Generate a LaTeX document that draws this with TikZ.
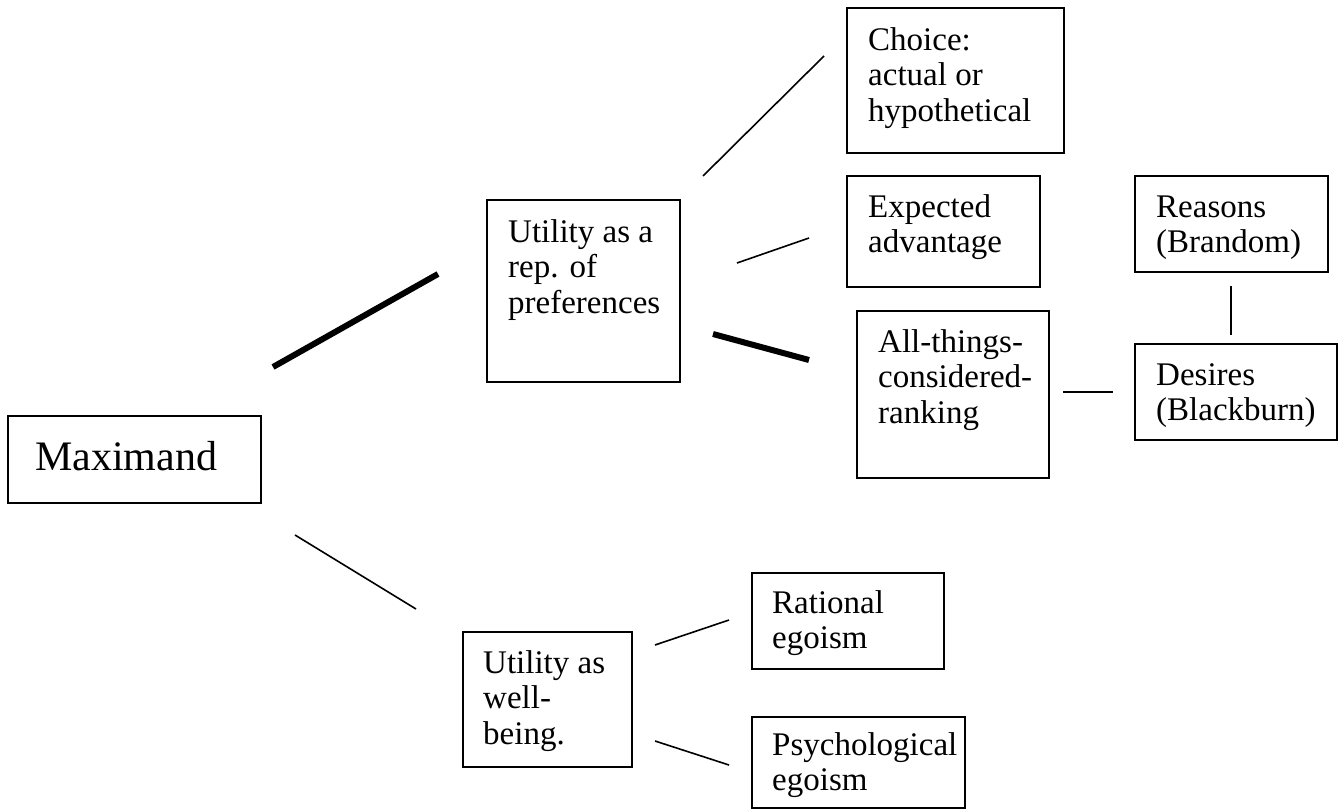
\documentclass[tikz,border=0pt]{standalone}
\usepackage{fontspec}
\setmainfont{Liberation Serif}
\begin{document}
\begin{tikzpicture}[x=1pt,y=-1pt,
  box/.style={draw=black, line width=1.8pt, inner sep=0pt},
  txt/.style={anchor=base west, inner sep=0pt, font=\fontsize{33}{35.5}\selectfont},
  bigtxt/.style={anchor=base west, inner sep=0pt, font=\fontsize{42}{46}\selectfont},
  thin/.style={line width=1.6pt},
  thick6/.style={line width=6pt}]
\useasboundingbox (0,0) rectangle (1338,811);
% boxes
\draw[box] (8,416) rectangle (261,503);
\draw[box] (487,200) rectangle (680,382);
\draw[box] (847,8) rectangle (1064,153);
\draw[box] (847,176) rectangle (1040,287);
\draw[box] (1135,176) rectangle (1328,272);
\draw[box] (857,311) rectangle (1049,478);
\draw[box] (1135,344) rectangle (1337,440);
\draw[box] (463,632) rectangle (632,767);
\draw[box] (752,573) rectangle (944,669);
\draw[box] (752,717) rectangle (965,808);
% texts
\node[bigtxt] (max) at (35,470) {Maximand};
\node[txt] (pref) at (508,242) {\parbox[t]{200pt}{Utility as a\\rep. of\\preferences}};
\node[txt] (choice) at (868,50) {\parbox[t]{220pt}{Choice:\\actual or\\hypothetical}};
\node[txt] (exp) at (868,217) {\parbox[t]{200pt}{Expected\\advantage}};
\node[txt] (reas) at (1156,217) {\parbox[t]{200pt}{Reasons\\(Brandom)}};
\node[txt] (all) at (878,352) {\parbox[t]{200pt}{All-things-\\considered-\\ranking}};
\node[txt] (des) at (1156,385) {\parbox[t]{200pt}{Desires\\(Blackburn)}};
\node[txt] (well) at (483,673) {\parbox[t]{200pt}{Utility as\\well-\\being.}};
\node[txt] (rat) at (772,613) {\parbox[t]{200pt}{Rational\\egoism}};
\node[txt] (psy) at (772,755) {\parbox[t]{220pt}{Psychological\\egoism}};
% connector end points
\coordinate (c1a) at (273,367); \coordinate (c1b) at (438,274);
\coordinate (c2a) at (295,535); \coordinate (c2b) at (416,609);
\coordinate (c3a) at (703,176); \coordinate (c3b) at (824,56);
\coordinate (c4a) at (737,263); \coordinate (c4b) at (809,238);
\coordinate (c5a) at (713,334); \coordinate (c5b) at (809,360);
\coordinate (c6a) at (1063,392); \coordinate (c6b) at (1113,392);
\coordinate (c7a) at (1231,286); \coordinate (c7b) at (1231,335);
\coordinate (c8a) at (655,645); \coordinate (c8b) at (729,620);
\coordinate (c9a) at (655,741); \coordinate (c9b) at (729,765);
% connectors
\draw[thick6] (c1a) -- (c1b);
\draw[thin] (c2a) -- (c2b);
\draw[thin] (c3a) -- (c3b);
\draw[thin] (c4a) -- (c4b);
\draw[thick6] (c5a) -- (c5b);
\draw[thin] (c6a) -- (c6b);
\draw[thin] (c7a) -- (c7b);
\draw[thin] (c8a) -- (c8b);
\draw[thin] (c9a) -- (c9b);
\end{tikzpicture}
\end{document}
